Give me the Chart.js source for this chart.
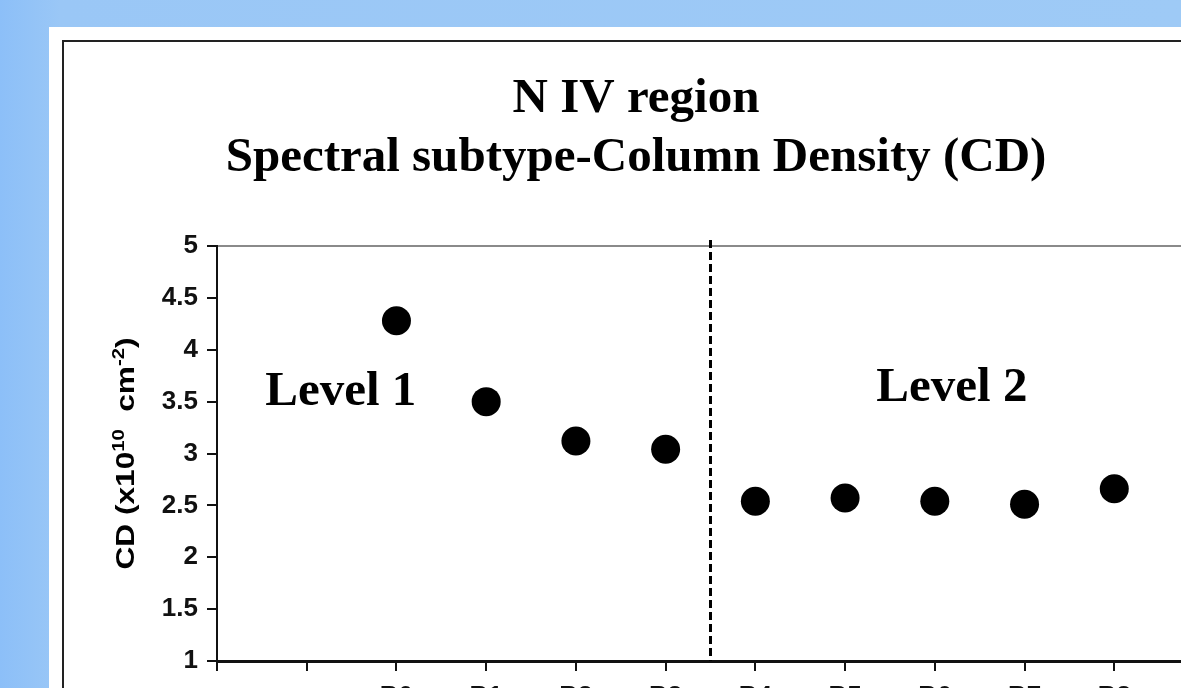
<!DOCTYPE html>
<html>
<head>
<meta charset="utf-8">
<script src="https://cdn.jsdelivr.net/npm/chart.js@4.4.1/dist/chart.umd.min.js"></script>
<style>
  html, body { margin: 0; padding: 0; overflow: hidden; }
  body {
    width: 1181px; height: 688px;
    background: linear-gradient(to right, #8cbff8 0px, #9ac7f6 60px, #9ecaf6 100%);
    position: relative;
  }
  #panel { position: absolute; left: 49px; top: 27px; width: 1300px; height: 800px; background: #fff; }
  #frame { position: absolute; left: 62px; top: 40px; width: 1300px; height: 800px; border: 2px solid #222; box-sizing: border-box; }
  #cdChart { position: absolute; left: 0; top: 0; }
</style>
</head>
<body>
<div id="panel"></div>
<div id="frame"></div>
<canvas id="cdChart" width="1240" height="730"></canvas>
<script>
  // spectral subtypes (first two slots empty, as on the original axis)
  const subtypes = ['', '', 'B0', 'B1', 'B2', 'B3', 'B4', 'B5', 'B6', 'B7', 'B8', ''];
  // column density, x10^10 cm^-2
  const cdValues = [null, null, 4.28, 3.50, 3.12, 3.04, 2.54, 2.57, 2.54, 2.51, 2.66, null];
  const yMin = 1, yMax = 5, yStep = 0.5;
  const titleLines = ['N IV region', 'Spectral subtype-Column Density (CD)'];
  const levelNames = ['Level 1', 'Level 2'];
  const level1Count = 4; // subtypes belonging to Level 1

  const firstIdx = cdValues.findIndex(v => v !== null);
  const levelBoundary = firstIdx + level1Count - 0.5;

  // annotations drawn on top of the chart
  const overlay = {
    id: 'overlay',
    beforeDatasetsDraw(chart) {
      const { ctx, chartArea, scales } = chart;
      const x = scales.x.getPixelForValue(levelBoundary);
      ctx.save();
      ctx.strokeStyle = '#000';
      ctx.lineWidth = 3;
      ctx.setLineDash([8, 4]);
      ctx.beginPath();
      ctx.moveTo(x, chartArea.top - 6);
      ctx.lineTo(x, chartArea.bottom);
      ctx.stroke();
      ctx.restore();
    },
    afterDraw(chart) {
      const { ctx, chartArea, scales } = chart;
      ctx.save();
      ctx.fillStyle = '#000';
      ctx.textAlign = 'center';
      ctx.textBaseline = 'alphabetic';
      ctx.font = 'bold 49px "Liberation Serif", "Times New Roman", serif';
      ctx.fillText(titleLines[0], 636, 112);
      ctx.fillText(titleLines[1], 636, 171);

      // level labels
      ctx.fillText(levelNames[0], scales.x.getPixelForValue(1.38), scales.y.getPixelForValue(3.47));
      ctx.fillText(levelNames[1], scales.x.getPixelForValue(8.19), scales.y.getPixelForValue(3.51));

      // y axis title with superscripts
      const big = 'bold 25px "Liberation Sans", Arial, sans-serif';
      const small = 'bold 16px "Liberation Sans", Arial, sans-serif';
      const parts = [
        { t: 'CD (x10', f: big, dy: 0 },
        { t: '10', f: small, dy: -10 },
        { t: '  cm', f: big, dy: 0 },
        { t: '-2', f: small, dy: -10 },
        { t: ')', f: big, dy: 0 }
      ];
      let total = 0;
      parts.forEach(p => { ctx.font = p.f; p.w = ctx.measureText(p.t).width; total += p.w; });
      const target = 232;
      const cy = (chartArea.top + chartArea.bottom) / 2;
      ctx.translate(134, cy);
      ctx.rotate(-Math.PI / 2);
      ctx.scale(target / total, 1);
      ctx.textAlign = 'left';
      let px = -total / 2;
      parts.forEach(p => {
        ctx.font = p.f;
        ctx.fillText(p.t, px, p.dy);
        px += p.w;
      });
      ctx.restore();
    }
  };

  const tickFont = { family: '"Liberation Sans", Arial, sans-serif', size: 26, weight: 'bold' };

  const cdChart = new Chart(document.getElementById('cdChart').getContext('2d'), {
    type: 'line',
    data: {
      labels: subtypes,
      datasets: [{
        label: 'CD',
        data: cdValues,
        showLine: false,
        pointRadius: 14.5,
        pointHoverRadius: 14.5,
        pointBackgroundColor: '#000',
        pointBorderColor: '#000',
        pointBorderWidth: 0
      }]
    },
    options: {
      responsive: false,
      animation: false,
      layout: { padding: { top: 246, right: 36, bottom: 0, left: 0 } },
      plugins: {
        legend: { display: false },
        title: { display: false },
        tooltip: { enabled: false }
      },
      scales: {
        x: {
          type: 'category',
          offset: false,
          afterFit: s => { s.height = 69; },
          border: { color: '#111', width: 3 },
          grid: { drawOnChartArea: false, drawTicks: true, tickLength: 10, tickColor: '#111', lineWidth: 2 },
          ticks: { autoSkip: false, maxRotation: 0, padding: 10, color: '#111', font: tickFont }
        },
        y: {
          min: yMin,
          max: yMax,
          afterFit: s => { s.width = 217; },
          border: { color: '#111', width: 2 },
          grid: {
            color: c => (c.tick && c.tick.value === yMax) ? '#8a8a8a' : 'rgba(0,0,0,0)',
            lineWidth: 2,
            tickLength: 10,
            tickColor: '#111'
          },
          ticks: { stepSize: yStep, padding: 9, color: '#111', font: tickFont, callback: v => String(v) }
        }
      }
    },
    plugins: [overlay]
  });
</script>
</body>
</html>
